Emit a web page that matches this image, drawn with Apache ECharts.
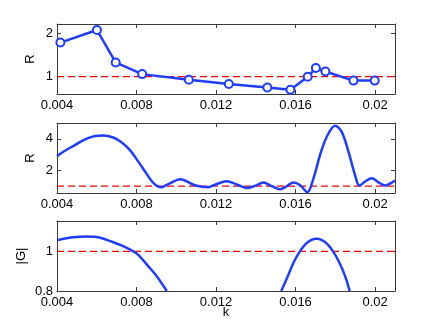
<!DOCTYPE html>
<html>
<head>
<meta charset="utf-8">
<script src="https://cdn.jsdelivr.net/npm/echarts@6/dist/echarts.min.js"></script>
<style>
html, body { margin: 0; padding: 0; background: #fff; }
#chart { width: 436px; height: 328px; }
</style>
</head>
<body>
<div id="chart"></div>
<script>
// panel 1 : R at sampled k (markers)
var k1 = [0.00417, 0.00601, 0.00695, 0.00828, 0.01063, 0.01264, 0.01458, 0.01574, 0.01661, 0.01702, 0.0175, 0.01891, 0.01998];
var r1 = [1.79, 2.08, 1.33, 1.06, 0.93, 0.83, 0.75, 0.70, 1.00, 1.20, 1.12, 0.91, 0.91];

// panel 2 : R continuous
var k2 = [0.004, 0.0044, 0.0049, 0.00541, 0.00591, 0.00633, 0.00683, 0.00726, 0.00767, 0.00809, 0.00843, 0.00876, 0.00902, 0.00923,
          0.00952, 0.00969, 0.01019, 0.01094, 0.0116, 0.01197, 0.01254, 0.01304, 0.01354, 0.01396, 0.01438, 0.0148, 0.01522,
          0.01556, 0.01589, 0.01623, 0.01659, 0.0169, 0.01723, 0.01757, 0.01799, 0.01832, 0.01866, 0.01899, 0.01921,
          0.0195, 0.01983, 0.02017, 0.0205, 0.02084, 0.021];
var r2 = [2.90, 3.24, 3.60, 3.96, 4.17, 4.21, 4.08, 3.77, 3.28, 2.55, 1.92, 1.32, 1.01, 0.93,
          1.07, 1.18, 1.43, 1.05, 0.93, 1.10, 1.30, 1.10, 0.88, 1.01, 1.22, 1.00, 0.80,
          1.00, 1.22, 1.05, 0.61, 1.49, 2.97, 4.13, 4.82, 4.44, 3.18, 1.70, 1.03,
          1.29, 1.49, 1.24, 1.03, 1.22, 1.35];

// panel 3 : |G|, two arches (null = gap below axis)
var k3 = [0.004, 0.0047, 0.0055, 0.006, 0.0068, 0.0073, 0.00784, 0.0081, 0.00868, 0.009, 0.00952, null,
          0.01528, 0.0156, 0.0159, 0.0162, 0.0165, 0.0168, 0.01705, 0.0173, 0.0176, 0.0179, 0.0182, 0.0185, 0.01872];
var g3 = [1.057, 1.070, 1.076, 1.073, 1.048, 1.028, 1.000, 0.981, 0.915, 0.877, 0.800, null,
          0.800, 0.873, 0.944, 0.998, 1.037, 1.058, 1.064, 1.058, 1.037, 0.998, 0.944, 0.873, 0.800];

// reference level |R| = |G| = 1
var refK = [0.004, 0.021];
var refV = [1, 1];

var xTicks = [0.004, 0.008, 0.012, 0.016, 0.02];

var blue = '#1f3dff';
var red = '#ff0000';
var axisCol = '#3a3a3a';
var font = 'Liberation Sans';

function pairs(ks, vs) {
    return ks.map(function (k, i) { return k === null ? [null, null] : [k, vs[i]]; });
}

var grids = [
    { left: 57, right: 41, top: 24, height: 70 },
    { left: 57, right: 41, top: 123, height: 70 },
    { left: 57, right: 41, top: 221, height: 70 }
];

var xAxes = [], yAxes = [];
var yConf = [
    { min: 0.6, max: 2.22, ticks: [1, 2], name: 'R', gap: 20 },
    { min: 0.56, max: 5, ticks: [2, 4], name: 'R', gap: 20 },
    { min: 0.8, max: 1.154, ticks: [0.8, 1], name: '|G|', gap: 29 }
];
for (var i = 0; i < 3; i++) {
    // bottom and top x axes
    xAxes.push({
        type: 'value', gridIndex: i, min: 0.004, max: 0.021, position: 'bottom',
        axisLine: { show: true, lineStyle: { color: axisCol, width: 1 } },
        axisTick: { show: true, inside: true, length: 4, customValues: xTicks, lineStyle: { color: axisCol } },
        axisLabel: { show: true, customValues: xTicks, color: '#000', fontFamily: font, fontSize: 13, margin: 5 },
        splitLine: { show: false },
        name: i === 2 ? 'k' : '', nameLocation: 'middle', nameGap: 15, nameMoveOverlap: false,
        nameTextStyle: { color: '#000', fontFamily: font, fontSize: 13 }
    });
    xAxes.push({
        type: 'value', gridIndex: i, min: 0.004, max: 0.021, position: 'top',
        axisLine: { show: true, lineStyle: { color: axisCol, width: 1 } },
        axisTick: { show: true, inside: true, length: 4, customValues: xTicks, lineStyle: { color: axisCol } },
        axisLabel: { show: false },
        splitLine: { show: false }
    });
    var yc = yConf[i];
    yAxes.push({
        type: 'value', gridIndex: i, min: yc.min, max: yc.max, position: 'left',
        axisLine: { show: true, lineStyle: { color: axisCol, width: 1 } },
        axisTick: { show: true, inside: true, length: 4, customValues: yc.ticks, lineStyle: { color: axisCol } },
        axisLabel: { show: true, customValues: yc.ticks, color: '#000', fontFamily: font, fontSize: 13, margin: 4 },
        splitLine: { show: false },
        name: yc.name, nameLocation: 'middle', nameGap: yc.gap, nameMoveOverlap: false,
        nameTextStyle: { color: '#000', fontFamily: font, fontSize: 13 }
    });
    yAxes.push({
        type: 'value', gridIndex: i, min: yc.min, max: yc.max, position: 'right',
        axisLine: { show: true, lineStyle: { color: axisCol, width: 1 } },
        axisTick: { show: true, inside: true, length: 4, customValues: yc.ticks, lineStyle: { color: axisCol } },
        axisLabel: { show: false },
        splitLine: { show: false }
    });
}

var series = [];
// dashed red level line in each panel
for (var j = 0; j < 3; j++) {
    series.push({
        type: 'line', xAxisIndex: j * 2, yAxisIndex: j * 2, data: pairs(refK, refV),
        symbol: 'none', silent: true, z: 2, color: red,
        lineStyle: { color: red, type: [7, 4], width: 1.3 }
    });
}
series.push({
    type: 'line', xAxisIndex: 0, yAxisIndex: 0, data: pairs(k1, r1),
    symbol: 'emptyCircle', symbolSize: 8, showAllSymbol: true, color: blue,
    lineStyle: { color: blue, width: 2.5 },
    itemStyle: { color: blue, borderWidth: 2, borderColor: blue },
    z: 3
});
series.push({
    type: 'line', xAxisIndex: 2, yAxisIndex: 2, data: pairs(k2, r2),
    symbol: 'none', smooth: 0.35, color: blue,
    lineStyle: { color: blue, width: 2.5 },
    z: 3
});
series.push({
    type: 'line', xAxisIndex: 4, yAxisIndex: 4, data: pairs(k3, g3),
    symbol: 'none', smooth: 0.35, connectNulls: false, color: blue,
    lineStyle: { color: blue, width: 2.5 },
    z: 3
});

var option = {
    animation: false,
    backgroundColor: '#fff',
    grid: grids,
    xAxis: xAxes,
    yAxis: yAxes,
    series: series
};

var chart = echarts.init(document.getElementById('chart'));
chart.setOption(option);
</script>
</body>
</html>
